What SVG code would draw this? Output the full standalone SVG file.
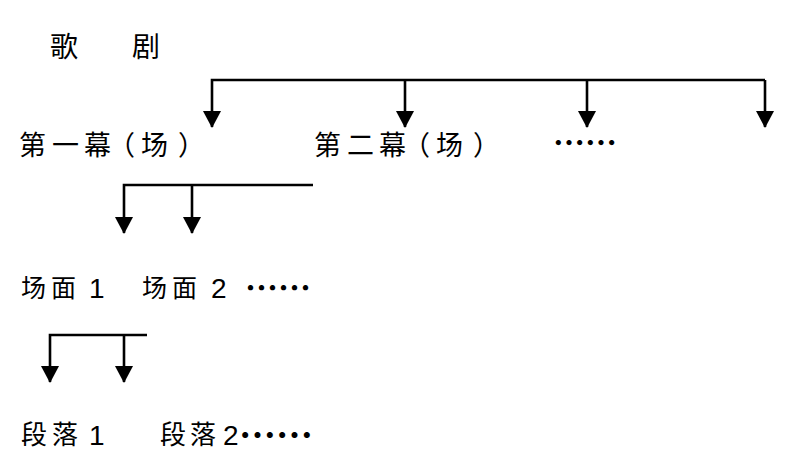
<svg xmlns="http://www.w3.org/2000/svg" width="800" height="466" viewBox="0 0 800 466">
<style>
.cjk{font-family:"Noto Sans CJK SC","Noto Sans CJK JP",sans-serif;fill:#000;}
.lat{font-family:"Liberation Sans",Arial,sans-serif;fill:#000;}
.dots{font-family:"Noto Sans CJK SC","Noto Sans CJK JP",sans-serif;font-weight:bold;fill:#000;}
.c{fill:none;stroke:#000;stroke-width:2.6;stroke-linejoin:miter;marker-end:url(#arr);}
</style>
<defs>
<marker id="arr" markerUnits="userSpaceOnUse" viewBox="0 0 17 18" refX="16" refY="9" markerWidth="17" markerHeight="18" orient="auto">
<path d="M0,0 L17,9 L0,18 z" fill="#000"/>
</marker>
</defs>
<rect width="800" height="466" fill="#fff"/>
<g id="connectors">
<path class="c" d="M765,80 H212 V127"/>
<path class="c" d="M405,80 V127"/>
<path class="c" d="M587,80 V127"/>
<path class="c" d="M765,80 V127"/>
<path class="c" d="M313,185 H124 V233"/>
<path class="c" d="M192,185 V233"/>
<path class="c" d="M147,335 H50 V382"/>
<path class="c" d="M124,335 V382"/>
</g>
<g id="opera">
<text class="cjk" font-size="28" x="50" y="57">歌</text>
<text class="cjk" font-size="28" x="132" y="57">剧</text>
</g>
<g id="act1">
<text class="cjk" font-size="27" x="19 52 84 108 141 178" y="155">第一幕（场）</text>
</g>
<g id="act2">
<text class="cjk" font-size="27" x="314 347 379 403 436 473" y="155">第二幕（场）</text>
</g>
<g id="act-more">
<text class="dots" font-size="32" x="553" y="155">……</text>
</g>
<g id="scene1">
<text class="cjk" font-size="25" x="21 51" y="297">场面</text>
<text class="lat" font-size="28" x="89" y="298">1</text>
</g>
<g id="scene2">
<text class="cjk" font-size="25" x="142 172" y="297">场面</text>
<text class="lat" font-size="28" x="211" y="298">2</text>
<text class="dots" font-size="33" x="245" y="300">……</text>
</g>
<g id="para1">
<text class="cjk" font-size="26" x="21 52" y="444">段落</text>
<text class="lat" font-size="28" x="89" y="445">1</text>
</g>
<g id="para2">
<text class="cjk" font-size="26" x="160 190" y="444">段落</text>
<text class="lat" font-size="28" x="223" y="445">2</text>
<text class="dots" font-size="37" x="239" y="449">……</text>
</g>
</svg>
